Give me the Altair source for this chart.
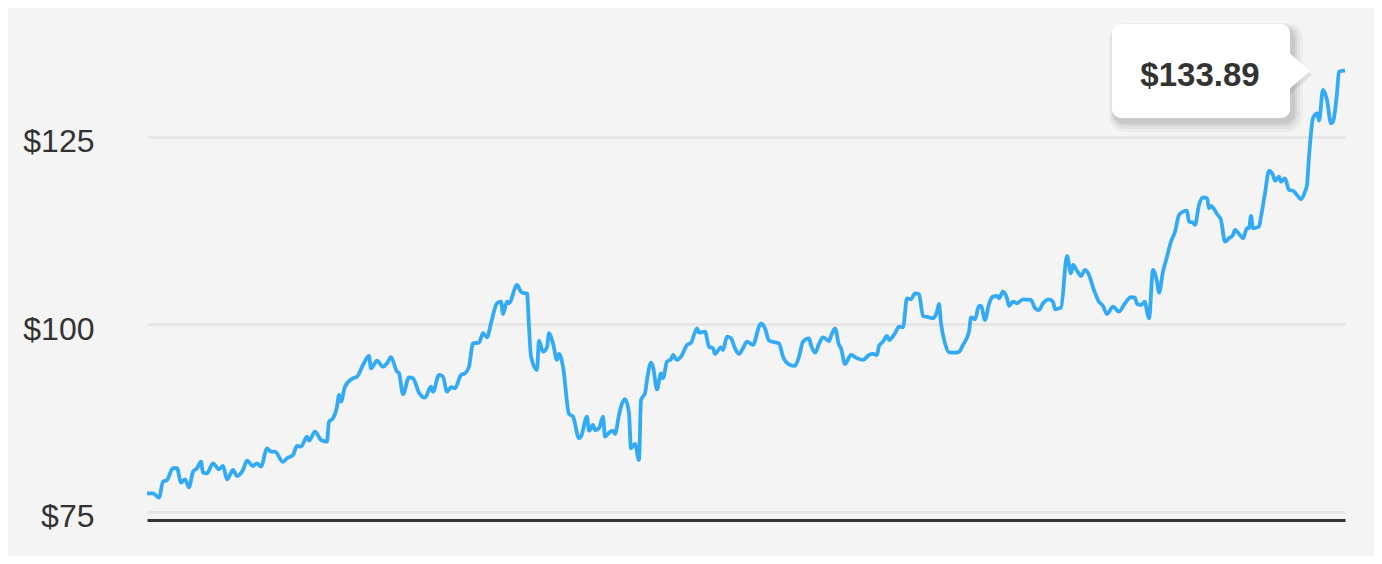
import altair as alt
import pandas as pd

# trading-day index (0..599) and closing price
days = [
    0, 3, 6, 8, 10, 13, 15, 17, 19, 21, 23, 25, 27, 28, 30, 33, 36, 38, 40, 43,
    45, 48, 50, 53, 55, 57, 60, 62, 64, 68, 70, 73, 75, 77, 80, 81, 84, 87, 90, 91,
    93, 95, 96, 97, 99, 103, 105, 108, 111, 112, 115, 118, 120, 122, 125, 126, 128, 131, 133, 136,
    139, 142, 143, 146,
    148, 150, 152, 154, 157, 159, 161, 163, 166, 168, 170, 172, 175, 177, 178, 180, 181, 185, 187, 189,
    190, 191, 192, 195, 196, 198, 200, 201, 203, 205, 206, 208, 211, 213, 216, 217, 220, 221, 223, 224,
    226, 228, 229, 231, 233, 234, 236, 237, 239, 241, 242, 244, 246, 247, 249, 250, 252, 253, 255, 257,
    258, 260, 262, 263, 265, 267, 270, 272, 275, 276, 279, 281, 283, 284, 287, 288, 290, 292, 294, 296,
    298, 300, 303, 306, 307, 309, 311, 314, 316, 318, 321, 324, 326, 328, 331, 332, 334, 336, 338, 341,
    342, 344, 346, 347, 349, 352, 355, 358, 361, 363, 365, 366, 368, 370, 371, 374, 376, 378, 380, 382,
    384, 386, 388, 391, 393, 395, 396, 397, 399, 401, 404, 406, 408, 411, 412, 414, 416, 417, 419, 421,
    423, 425, 426, 428, 430, 431, 433, 435, 438, 442, 444, 446,
    448, 451, 453, 454, 457, 460, 462, 463, 465, 467, 469, 471, 473, 476, 478, 480, 483, 486, 489, 492,
    494, 495, 497, 499, 500, 501, 503, 505, 506, 508, 510, 512, 514, 516, 518, 520, 521, 523, 524, 526,
    528, 530, 531, 532, 535, 537, 539, 541, 543, 544, 546, 548, 550, 551, 552, 553, 556, 557, 559, 561,
    563, 564, 566, 567, 569, 571, 573, 575, 577, 579, 580, 581, 583, 585, 586, 588, 590, 592, 593, 595,
    596, 598, 599,
]
prices = [
    77.49, 77.49, 76.91, 79.04, 79.27, 80.83, 80.83, 78.91, 79.36, 78.29, 80.37, 80.83, 81.71, 80.24, 80.16, 81.49, 80.69, 81.13, 79.36, 80.60,
    79.80, 80.60, 81.84, 81.13, 81.49, 81.04, 83.49, 83.04, 83.04, 81.67, 82.16, 82.60, 83.80, 83.71, 85.04, 84.51, 85.71, 84.60, 84.37, 87.04,
    87.49, 89.04, 90.60, 89.71, 91.71, 92.83, 93.04, 94.60, 95.80, 94.16, 95.17, 94.37, 94.83, 95.63, 93.71, 93.49, 90.69, 92.96, 92.83, 90.91,
    90.24, 91.71, 91.04, 93.27,
    93.04, 91.04, 91.63, 91.49, 93.27, 93.49, 94.37, 97.49, 97.57, 98.83, 98.29, 100.16, 102.83, 103.04, 101.40, 103.04, 102.83, 105.27, 104.37, 104.16,
    104.16, 99.71, 95.71, 93.93, 97.84, 96.37, 96.96, 98.83, 97.49, 95.27, 96.07, 94.37, 88.07, 87.71, 84.83, 85.04, 87.71, 85.84, 86.60, 85.93,
    86.16, 87.71, 85.04, 85.57, 85.84, 85.40, 87.93, 89.04, 90.03, 88.16, 83.49, 84.07, 81.93, 89.93, 90.83, 92.60, 94.91, 94.37, 91.36, 93.49,
    92.83, 95.04, 95.36, 95.93, 95.27, 95.71, 97.27, 97.57, 99.49, 98.91, 99.04, 97.04, 96.83, 96.07, 96.96, 96.60, 98.37, 98.16, 96.83, 96.07,
    96.83, 97.71, 97.27, 99.71, 100.16, 99.49, 97.84, 97.63, 97.49, 95.71, 94.69, 94.47, 95.71, 97.71, 98.16, 97.27, 96.24, 97.40, 98.29, 97.80,
    98.47, 99.49, 97.27, 96.83, 94.73, 95.93, 95.49, 95.27, 95.93, 96.07, 95.93, 97.13, 97.71, 98.47, 97.93, 98.83, 99.71, 99.63, 103.49, 103.36,
    104.16, 104.03, 101.13, 100.96, 100.83, 101.71, 102.73, 100.16, 97.49, 96.29, 96.24, 96.37, 97.27, 99.04, 100.96, 100.69, 102.47, 102.47, 100.60, 102.73,
    103.71, 103.80, 103.49, 104.37, 103.49, 102.47, 103.04, 102.83, 103.36, 103.27, 102.16, 101.93,
    102.83, 103.36, 103.04, 102.03, 102.24, 109.13, 106.83, 107.93, 107.17, 106.47, 107.27, 106.60, 104.96, 103.04, 102.47, 101.40, 102.37, 101.71, 102.83, 103.63,
    103.57, 102.73, 102.60, 103.04, 101.71, 100.83, 107.27, 105.71, 104.24, 107.04, 109.04, 111.04, 112.37, 114.60, 115.04, 115.17, 113.71, 113.57, 113.27, 115.93,
    116.96, 116.83, 115.49, 115.80, 114.73, 113.93, 111.04, 111.49, 111.93, 112.60, 112.07, 111.49, 112.83, 112.83, 114.47, 112.83, 113.04, 114.37, 117.49, 120.47,
    119.93, 119.17, 119.71, 119.04, 119.49, 117.93, 117.84, 117.27, 116.69, 117.71, 118.60, 122.37, 127.49, 128.16, 127.17, 131.27, 129.93, 126.83, 127.04, 130.83,
    133.71, 133.84, 133.89,
]
y_ticks = [75, 100, 125]

n = min(len(days), len(prices))
df = pd.DataFrame({"day": days[:n], "price": prices[:n]})
last = pd.DataFrame({"label": [f"${prices[n - 1]:.2f}"]})

W, H = 1198, 500
FONT = "Liberation Sans"
TEXT = "#333333"

x = alt.X(
    "day:Q",
    scale=alt.Scale(domain=[0, 599], nice=False, zero=False),
    axis=alt.Axis(title=None, labels=False, ticks=False, grid=False,
                  domain=True, domainColor="#333333", domainWidth=3),
)
y = alt.Y(
    "price:Q",
    scale=alt.Scale(domain=[73.93, 140.6], nice=False, zero=False),
    axis=alt.Axis(title=None, values=y_ticks, labelExpr="'$' + datum.value",
                  domain=False, ticks=False, grid=True, gridColor="#e6e6e6",
                  gridWidth=3, labelFontSize=32, labelFont=FONT,
                  labelColor=TEXT, labelPadding=53, labelBaseline="middle",
                  labelOffset=5),
)

line = alt.Chart(df).mark_line(
    color="#33aaf5", strokeWidth=3.8, interpolate="monotone"
).encode(x=x, y=y)

# tooltip box (plot-area pixel positions)
bx0, bx1, by0, by1 = 965, 1143, 4, 98
shadows = []
for e, op in [(10, 0.03), (7, 0.04), (4, 0.05), (2, 0.06)]:
    shadows.append(
        alt.Chart(last).mark_rect(color="black", opacity=op, cornerRadius=10 + e / 2).encode(
            x=alt.value(bx0 + 2 - e / 2), x2=alt.value(bx1 + 3 + e),
            y=alt.value(by0 + 4 - e / 2), y2=alt.value(by1 + 4 + e),
        )
    )
tri_path = "M-0.55,-0.95 L0.55,0 L-0.55,0.95 Z"
tri_shadow = alt.Chart(last).mark_point(
    shape=tri_path, size=1600, filled=True, color="black", opacity=0.08, strokeWidth=0
).encode(x=alt.value(1154), y=alt.value(55))
box = alt.Chart(last).mark_rect(color="white", cornerRadius=9).encode(
    x=alt.value(bx0), x2=alt.value(bx1), y=alt.value(by0), y2=alt.value(by1)
)
tri = alt.Chart(last).mark_point(
    shape=tri_path, size=1600, filled=True, color="white", opacity=1, strokeWidth=0
).encode(x=alt.value(1152), y=alt.value(51))
label = alt.Chart(last).mark_text(
    font=FONT, fontSize=33, fontWeight="bold", color=TEXT,
    align="center", baseline="middle"
).encode(x=alt.value(1053), y=alt.value(56), text="label:N")

chart = alt.layer(line, *shadows, tri_shadow, box, tri, label).properties(
    width=W, height=H, background="#f4f4f4",
    padding={"left": 139, "top": 12, "right": 29, "bottom": 36},
    autosize=alt.AutoSizeParams(type="none"),
).configure_view(stroke=None)

chart.save("out.html", embed_options={"renderer": "svg", "actions": False})
